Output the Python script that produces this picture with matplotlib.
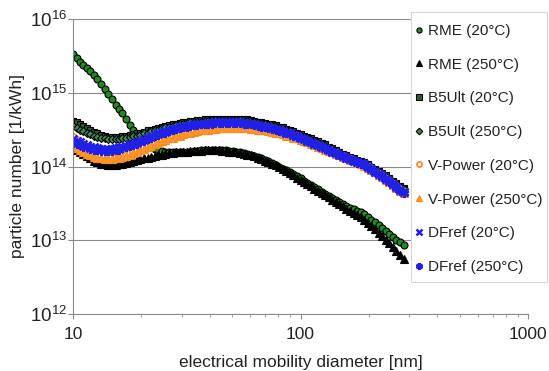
import numpy as np
import matplotlib
matplotlib.use("Agg")
import matplotlib.pyplot as plt
from matplotlib.patches import Rectangle
from matplotlib.ticker import FixedLocator, NullFormatter, FuncFormatter

plt.rcParams['font.family'] = ['Liberation Sans', 'DejaVu Sans']
plt.rcParams['mathtext.fontset'] = 'custom'
plt.rcParams['mathtext.rm'] = 'Liberation Sans'

# electrical mobility diameter [nm], SMPS channels (64 per decade)
diameter = [10.0, 10.4, 10.7, 11.1, 11.5, 11.9, 12.4, 12.8, 13.3, 13.8,
            14.3, 14.8, 15.4, 15.9, 16.5, 17.1, 17.8, 18.4, 19.1, 19.8,
            20.5, 21.3, 22.1, 22.9, 23.7, 24.6, 25.5, 26.4, 27.4, 28.4,
            29.4, 30.5, 31.6, 32.8, 34.0, 35.2, 36.5, 37.9, 39.2, 40.7,
            42.2, 43.7, 45.3, 47.0, 48.7, 50.5, 52.3, 54.2, 56.2, 58.3,
            60.4, 62.6, 64.9, 67.3, 69.8, 72.3, 75.0, 77.7, 80.6, 83.5,
            86.6, 89.8, 93.1, 96.5, 100, 104, 107, 111, 115, 119,
            124, 128, 133, 138, 143, 148, 154, 159, 165, 171,
            178, 184, 191, 198, 205, 213, 221, 229, 237, 246,
            255, 264, 274, 284]

# particle number, stored as log10 of [1/kWh]
rme_20 = [15.53, 15.47, 15.42, 15.38, 15.33, 15.29, 15.24, 15.18, 15.12, 15.05,
          14.98, 14.91, 14.84, 14.78, 14.72, 14.64, 14.56, 14.49, 14.42, 14.37,
          14.33, 14.29, 14.26, 14.24, 14.22, 14.21, 14.20, 14.19, 14.19, 14.19,
          14.19, 14.19, 14.20, 14.20, 14.21, 14.21, 14.22, 14.22, 14.22, 14.22,
          14.22, 14.22, 14.22, 14.22, 14.21, 14.21, 14.20, 14.19, 14.18, 14.17,
          14.16, 14.14, 14.13, 14.11, 14.09, 14.07, 14.05, 14.02, 14.00, 13.97,
          13.95, 13.92, 13.90, 13.87, 13.84, 13.81, 13.78, 13.75, 13.72, 13.69,
          13.66, 13.63, 13.60, 13.57, 13.55, 13.52, 13.49, 13.47, 13.44, 13.42,
          13.40, 13.38, 13.36, 13.32, 13.28, 13.25, 13.21, 13.17, 13.13, 13.09,
          13.05, 13.01, 12.97, 12.93]
rme_250 = [14.26, 14.23, 14.20, 14.17, 14.14, 14.11, 14.08, 14.06, 14.04, 14.03,
           14.02, 14.02, 14.02, 14.03, 14.04, 14.05, 14.06, 14.08, 14.09, 14.10,
           14.11, 14.12, 14.13, 14.14, 14.15, 14.16, 14.17, 14.18, 14.18, 14.19,
           14.19, 14.20, 14.20, 14.21, 14.21, 14.21, 14.21, 14.22, 14.22, 14.22,
           14.22, 14.22, 14.21, 14.21, 14.20, 14.20, 14.19, 14.18, 14.17, 14.16,
           14.15, 14.14, 14.12, 14.10, 14.08, 14.06, 14.04, 14.02, 13.99, 13.97,
           13.94, 13.91, 13.88, 13.85, 13.82, 13.79, 13.76, 13.73, 13.70, 13.67,
           13.64, 13.61, 13.58, 13.55, 13.52, 13.49, 13.46, 13.43, 13.40, 13.37,
           13.34, 13.31, 13.27, 13.23, 13.19, 13.15, 13.10, 13.06, 13.01, 12.96,
           12.91, 12.86, 12.80, 12.75]
b5ult_20 = [14.62, 14.60, 14.57, 14.55, 14.52, 14.50, 14.47, 14.45, 14.43, 14.41,
            14.40, 14.40, 14.40, 14.40, 14.41, 14.42, 14.43, 14.44, 14.45, 14.46,
            14.47, 14.49, 14.50, 14.51, 14.52, 14.54, 14.55, 14.56, 14.57, 14.58,
            14.59, 14.60, 14.61, 14.62, 14.62, 14.63, 14.63, 14.64, 14.64, 14.65,
            14.65, 14.65, 14.65, 14.65, 14.65, 14.65, 14.65, 14.65, 14.64, 14.64,
            14.63, 14.62, 14.61, 14.60, 14.59, 14.58, 14.57, 14.56, 14.54, 14.53,
            14.51, 14.50, 14.48, 14.46, 14.44, 14.42, 14.40, 14.38, 14.36, 14.34,
            14.32, 14.30, 14.27, 14.25, 14.22, 14.20, 14.17, 14.15, 14.13, 14.11,
            14.09, 14.07, 14.06, 14.03, 14.00, 13.97, 13.94, 13.91, 13.88, 13.85,
            13.81, 13.78, 13.74, 13.71]
b5ult_250 = [14.55, 14.52, 14.50, 14.48, 14.46, 14.44, 14.42, 14.40, 14.39, 14.38,
             14.37, 14.37, 14.37, 14.37, 14.38, 14.39, 14.40, 14.41, 14.42, 14.43,
             14.45, 14.46, 14.48, 14.49, 14.50, 14.52, 14.53, 14.54, 14.55, 14.56,
             14.57, 14.58, 14.59, 14.60, 14.60, 14.61, 14.61, 14.62, 14.62, 14.63,
             14.63, 14.63, 14.63, 14.63, 14.63, 14.63, 14.63, 14.63, 14.62, 14.62,
             14.61, 14.60, 14.59, 14.58, 14.57, 14.56, 14.55, 14.54, 14.52, 14.51,
             14.49, 14.48, 14.46, 14.44, 14.42, 14.40, 14.38, 14.36, 14.34, 14.32,
             14.30, 14.28, 14.25, 14.23, 14.20, 14.18, 14.15, 14.13, 14.11, 14.09,
             14.07, 14.05, 14.04, 14.01, 13.98, 13.95, 13.92, 13.89, 13.86, 13.83,
             13.79, 13.76, 13.72, 13.69]
vpower_20 = [14.40, 14.36, 14.32, 14.28, 14.25, 14.22, 14.19, 14.17, 14.15, 14.14,
             14.13, 14.13, 14.13, 14.14, 14.15, 14.16, 14.18, 14.20, 14.22, 14.24,
             14.26, 14.28, 14.30, 14.32, 14.34, 14.36, 14.37, 14.39, 14.40, 14.42,
             14.43, 14.45, 14.46, 14.47, 14.48, 14.49, 14.50, 14.51, 14.51, 14.52,
             14.52, 14.53, 14.53, 14.53, 14.53, 14.53, 14.53, 14.53, 14.53, 14.53,
             14.52, 14.52, 14.51, 14.51, 14.50, 14.49, 14.48, 14.47, 14.46, 14.45,
             14.43, 14.42, 14.40, 14.39, 14.37, 14.36, 14.34, 14.32, 14.30, 14.28,
             14.26, 14.24, 14.22, 14.20, 14.18, 14.16, 14.14, 14.12, 14.10, 14.08,
             14.06, 14.04, 14.02, 13.99, 13.96, 13.93, 13.90, 13.87, 13.83, 13.80,
             13.76, 13.72, 13.68, 13.65]
vpower_250 = [14.28, 14.25, 14.22, 14.19, 14.17, 14.15, 14.13, 14.12, 14.11, 14.10,
              14.10, 14.10, 14.11, 14.12, 14.13, 14.14, 14.16, 14.18, 14.20, 14.22,
              14.24, 14.26, 14.28, 14.30, 14.32, 14.34, 14.36, 14.38, 14.39, 14.41,
              14.42, 14.44, 14.45, 14.46, 14.47, 14.48, 14.49, 14.50, 14.50, 14.51,
              14.51, 14.52, 14.52, 14.52, 14.52, 14.52, 14.52, 14.52, 14.52, 14.52,
              14.51, 14.51, 14.50, 14.50, 14.49, 14.48, 14.47, 14.46, 14.45, 14.44,
              14.42, 14.41, 14.39, 14.38, 14.36, 14.35, 14.33, 14.31, 14.29, 14.27,
              14.25, 14.23, 14.21, 14.19, 14.17, 14.15, 14.13, 14.11, 14.09, 14.07,
              14.05, 14.03, 14.01, 13.98, 13.95, 13.92, 13.89, 13.86, 13.82, 13.79,
              13.75, 13.71, 13.67, 13.64]
dfref_20 = [14.37, 14.35, 14.33, 14.31, 14.29, 14.27, 14.26, 14.25, 14.24, 14.24,
            14.24, 14.24, 14.25, 14.26, 14.27, 14.28, 14.30, 14.31, 14.33, 14.35,
            14.37, 14.39, 14.41, 14.43, 14.45, 14.47, 14.48, 14.50, 14.51, 14.52,
            14.53, 14.54, 14.55, 14.56, 14.57, 14.57, 14.58, 14.58, 14.59, 14.59,
            14.60, 14.60, 14.60, 14.60, 14.60, 14.60, 14.60, 14.60, 14.59, 14.59,
            14.58, 14.57, 14.56, 14.55, 14.54, 14.53, 14.52, 14.51, 14.49, 14.48,
            14.46, 14.45, 14.43, 14.41, 14.39, 14.37, 14.35, 14.33, 14.31, 14.29,
            14.27, 14.25, 14.22, 14.20, 14.18, 14.16, 14.14, 14.12, 14.10, 14.08,
            14.06, 14.05, 14.03, 13.99, 13.96, 13.93, 13.90, 13.87, 13.83, 13.80,
            13.76, 13.72, 13.68, 13.65]
dfref_250 = [14.33, 14.31, 14.29, 14.27, 14.26, 14.24, 14.23, 14.22, 14.21, 14.21,
             14.21, 14.21, 14.22, 14.23, 14.25, 14.26, 14.28, 14.29, 14.31, 14.33,
             14.35, 14.37, 14.39, 14.41, 14.43, 14.45, 14.46, 14.48, 14.49, 14.51,
             14.52, 14.53, 14.54, 14.55, 14.56, 14.56, 14.57, 14.57, 14.58, 14.58,
             14.59, 14.59, 14.59, 14.59, 14.59, 14.59, 14.59, 14.59, 14.58, 14.58,
             14.57, 14.56, 14.55, 14.54, 14.53, 14.52, 14.51, 14.50, 14.48, 14.47,
             14.45, 14.44, 14.42, 14.40, 14.38, 14.36, 14.34, 14.32, 14.30, 14.28,
             14.26, 14.24, 14.22, 14.19, 14.17, 14.15, 14.13, 14.11, 14.09, 14.07,
             14.05, 14.04, 14.02, 13.98, 13.95, 13.92, 13.89, 13.86, 13.82, 13.79,
             13.75, 13.71, 13.67, 13.64]

labels = ['RME (20°C)', 'RME (250°C)', 'B5Ult (20°C)', 'B5Ult (250°C)',
          'V-Power (20°C)', 'V-Power (250°C)', 'DFref (20°C)', 'DFref (250°C)']

# marker styles, same order as labels (Excel-like look)
styles = [
    dict(marker='o', ms=5.0, mfc='#1f8a1f', mec='black', mew=0.8),
    dict(marker='^', ms=6.0, mfc='black', mec='black', mew=0.8),
    dict(marker='s', ms=5.0, mfc='#2d5a3a', mec='black', mew=0.8),
    dict(marker='D', ms=4.5, mfc='#3f8a55', mec='black', mew=0.8),
    dict(marker='o', ms=5.0, mfc='white', mec='#ff8a1c', mew=1.2),
    dict(marker='^', ms=6.0, mfc='#ff9a30', mec='#ff8a1c', mew=0.8),
    dict(marker='x', ms=5.5, mfc='none', mec='#2020e8', mew=1.8),
    dict(marker=(6, 2, 0), ms=6.5, mfc='none', mec='#2020e8', mew=1.8),
]

series = [rme_20, rme_250, b5ult_20, b5ult_250,
          vpower_20, vpower_250, dfref_20, dfref_250]

W, H = 549, 371
fig = plt.figure(figsize=(W / 100, H / 100), dpi=100)
ax = fig.add_axes([73 / W, 1 - 314 / H, 455 / W, 295 / H])

d = np.array(diameter)
for vals, lab, st in zip(series, labels, styles):
    ax.plot(d, 10 ** np.array(vals), linestyle='none', label=lab, **st)

ax.set_xscale('log')
ax.set_yscale('log')
ax.set_xlim(10, 1000)
ax.set_ylim(1e12, 1e16)

ax.xaxis.set_major_locator(FixedLocator([10, 100, 1000]))
ax.xaxis.set_major_formatter(FuncFormatter(lambda v, p: f'{v:.0f}'))
minor = [m * 10 ** k for k in (1, 2) for m in range(2, 10)]
ax.xaxis.set_minor_locator(FixedLocator(minor))
ax.xaxis.set_minor_formatter(NullFormatter())
ax.yaxis.set_major_locator(FixedLocator([1e12, 1e13, 1e14, 1e15, 1e16]))
ax.yaxis.set_minor_locator(FixedLocator([]))

ax.grid(axis='y', which='major', color='#8a8a8a', linewidth=0.8)
ax.set_axisbelow(True)
for side in ('top', 'right'):
    ax.spines[side].set_visible(False)
for side in ('left', 'bottom'):
    ax.spines[side].set_color('#8a8a8a')
    ax.spines[side].set_linewidth(0.8)

ax.tick_params(axis='both', which='major', direction='out', length=3.5,
               color='#8a8a8a', labelcolor='#222222')
ax.tick_params(axis='x', which='minor', direction='out', length=2.5, color='#8a8a8a')
ax.tick_params(axis='x', which='major', pad=6, labelsize=12.5)
ax.tick_params(axis='y', which='major', pad=1, labelsize=13.5)

ax.set_xlabel('electrical mobility diameter [nm]', fontsize=12.5, color='#222222', labelpad=9)
ax.set_ylabel('particle number [1/kWh]', fontsize=12.5, color='#222222', labelpad=3)

# legend box drawn as its own patch so it sits exactly where the original one is
fig.patches.append(Rectangle((411 / W, 1 - 282 / H), 136 / W, 270 / H,
                             transform=fig.transFigure, facecolor='white',
                             edgecolor='#d8d8d8', linewidth=0.8, zorder=1))
leg = fig.legend(loc='upper left', bbox_to_anchor=(414.5 / W, 1 - 24 / H),
                 fontsize=11, frameon=False, labelspacing=1.29,
                 handlelength=0.6, handletextpad=0.3, markerscale=0.75,
                 borderpad=0, borderaxespad=0)
for t in leg.get_texts():
    t.set_color('#222222')

fig.savefig('out.png', dpi=100)
